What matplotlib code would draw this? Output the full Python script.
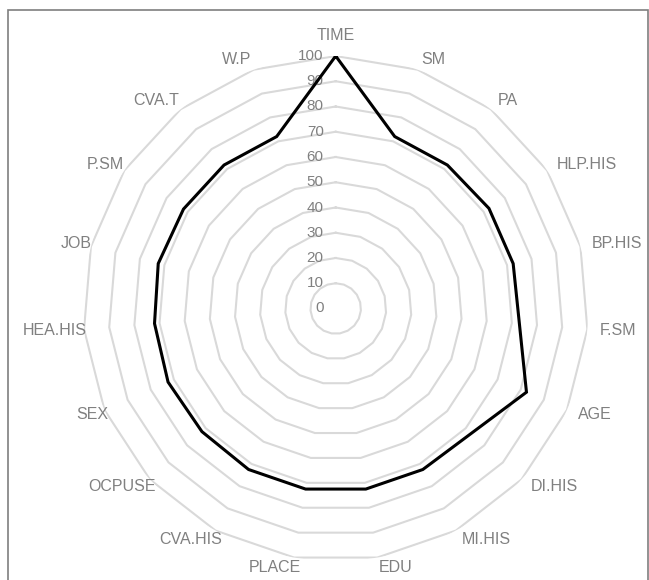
import numpy as np
import matplotlib
matplotlib.use("Agg")
import matplotlib.pyplot as plt
from matplotlib.patches import Rectangle

categories = ["TIME", "SM", "PA", "HLP.HIS", "BP.HIS", "F.SM", "AGE", "DI.HIS",
              "MI.HIS", "EDU", "PLACE", "CVA.HIS", "OCPUSE", "SEX", "HEA.HIS",
              "JOB", "P.SM", "CVA.T", "W.P"]
values = [100, 72, 72, 72.5, 72.5, 73, 82.5, 73, 72.5, 72.5, 72.5, 72.5, 72,
          72.5, 72, 72.5, 72, 72, 72]
ring_values = [10, 20, 30, 40, 50, 60, 70, 80, 90, 100]
tick_labels = ["0", "10", "20", "30", "40", "50", "60", "70", "80", "90", "100"]

plt.rcParams['font.family'] = ['Liberation Sans', 'DejaVu Sans']

W, H = 649, 580
fig = plt.figure(figsize=(W / 100, H / 100), dpi=100)

cx, cy, R = 335.7, 308.5, 252.5
ax = fig.add_axes([(cx - R) / W, (H - cy - R) / H, 2 * R / W, 2 * R / H],
                  projection='polar')
ax.set_theta_zero_location('N')
ax.set_theta_direction(-1)
ax.set_ylim(0, 100)
ax.set_xticks([])
ax.set_yticks([])
ax.grid(False)
ax.spines['polar'].set_visible(False)
ax.patch.set_visible(False)

n = len(categories)
theta = np.arange(n) * 2 * np.pi / n
theta_c = np.append(theta, theta[0])

grid_col = '#d9d9d9'
for rv in ring_values:
    ax.plot(theta_c, [rv] * (n + 1), color=grid_col, lw=1.5, zorder=1,
            solid_joinstyle='miter')

vals_c = values + [values[0]]
ax.plot(theta_c, vals_c, color='black', lw=2.2, zorder=3, solid_joinstyle='miter')

txt_col = '#808080'
# radial tick labels
for i, lab in enumerate(tick_labels):
    ax.annotate(lab, xy=(0, i * 10), xytext=(-12, 0), textcoords='offset pixels',
                ha='right', va='center', fontsize=11, color=txt_col, zorder=2)

# category labels
for t, lab in zip(theta, categories):
    s, c = np.sin(t), np.cos(t)
    if abs(s) < 0.05:
        ha, dx, dy = 'center', 0, 20 * c
    elif s > 0:
        ha, dx, dy = 'left', 12 * s, 10.5 * c
    else:
        ha, dx, dy = 'right', 2 - 5 * c, 10.5 * c
    ax.annotate(lab, xy=(t, 100), xytext=(dx, dy), textcoords='offset pixels',
                ha=ha, va='center', fontsize=11.5, color=txt_col,
                annotation_clip=False)

# chart border
fig.patches.append(Rectangle((8 / W, -0.05), (648 - 8) / W, 1.05 - 10 / H,
                             transform=fig.transFigure, fill=False,
                             edgecolor='#7f7f7f', lw=1.2))

fig.savefig("out.png", dpi=100)
